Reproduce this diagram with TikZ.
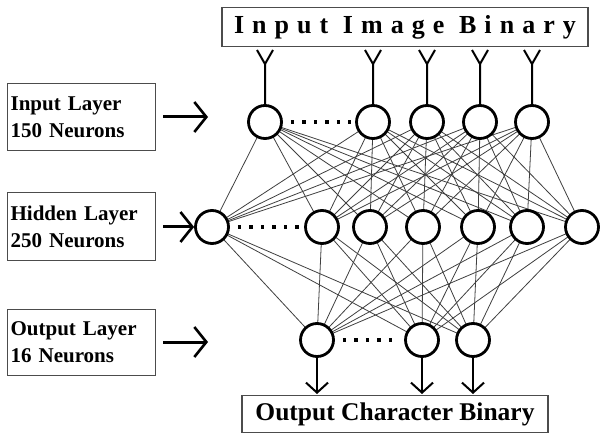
\documentclass[tikz,border=0pt]{standalone}
\usepackage{fontspec}
\setmainfont{Liberation Serif}
\usetikzlibrary{arrows.meta}
\tikzset{
  neuron/.style={circle, draw=black, line width=2.8pt, minimum size=33pt, inner sep=0pt, fill=white},
  lbox/.style={draw=black!70, line width=1.2pt, minimum width=148pt, inner sep=3pt, anchor=north west, align=left, text width=142pt, font=\bfseries\fontsize{21}{27}\selectfont},
  link/.style={draw=black!75, line width=0.8pt},
  dotline/.style={line width=3.5pt, dash pattern=on 3.5pt off 8pt},
  larrow/.style={line width=3pt, -{Straight Barb[length=12pt,width=30pt,line width=2.6pt]}},
  darrow/.style={line width=2pt, -{Straight Barb[length=10pt,width=22pt,line width=2pt]}},
  fork/.style={line width=2pt}
}
\begin{document}
\begin{tikzpicture}[x=1pt,y=-1pt]
\useasboundingbox[fill=white] (0,0) rectangle (601,435);
% title box
\node[draw=black!70, line width=1.2pt, minimum width=366pt, minimum height=39pt, inner sep=0pt] (title) at (405,27)
  {\bfseries\fontsize{26}{28}\selectfont\addfontfeature{LetterSpace=31}Input Image Binary};
% left label boxes
\node[lbox, minimum height=67pt] (lin) at (7,83) {Input Layer\\150 Neurons};
\node[lbox, minimum height=68pt] (lhid) at (7,192) {Hidden Layer\\250 Neurons};
\node[lbox, minimum height=66pt] (lout) at (7,309) {Output Layer\\16 Neurons};
% output box
\node[draw=black!70, line width=1.2pt, minimum width=306pt, minimum height=37pt, inner sep=0pt] (obox) at (395,414)
  {\bfseries\fontsize{25.5}{28}\selectfont Output Character Binary};
% connections
\foreach \a/\ax in {1/265,2/373,3/427,4/480,5/532}{
  \foreach \b/\bx in {1/212,2/322,3/370,4/423,5/478,6/527,7/582}{
    \draw[link] (\ax,122) -- (\bx,227);
  }
}
\foreach \b/\bx in {1/212,2/322,3/370,4/423,5/478,6/527,7/582}{
  \foreach \c/\cx in {1/317,2/422,3/473}{
    \draw[link] (\bx,227) -- (\cx,340);
  }
}
% input neurons
\foreach \a/\ax in {1/265,2/373,3/427,4/480,5/532}{
  \node[neuron] (i\a) at (\ax,122) {};
  \coordinate (f\a) at (\ax,64);
  \coordinate (fl\a) at (\ax-8,50);
  \coordinate (fr\a) at (\ax+8,50);
  \draw[fork] (i\a.north) -- (f\a) -- (fl\a);
  \draw[fork] (f\a) -- (fr\a);
}
% hidden neurons
\foreach \b/\bx in {1/212,2/322,3/370,4/423,5/478,6/527,7/582}{
  \node[neuron] (h\b) at (\bx,227) {};
}
% output neurons
\foreach \c/\cx in {1/317,2/422,3/473}{
  \node[neuron] (o\c) at (\cx,340) {};
  \coordinate (oe\c) at (\cx,394);
  \draw[darrow] (o\c.south) -- (oe\c);
}
% dotted
\draw[dotline] (i1.east) ++(8,0) -- ([xshift=-4pt]i2.west);
\draw[dotline] (h1.east) ++(8,0) -- ([xshift=-4pt]h2.west);
\draw[dotline] (o1.east) ++(8,0) -- ([xshift=-4pt]o2.west);
% left arrows
\coordinate (ai) at (208,117);
\coordinate (ao) at (208,342);
\draw[larrow] ([xshift=7pt]lin.east |- ai) -- (ai);
\draw[larrow] ([xshift=7pt]lhid.east |- h1) -- (h1.west);
\draw[larrow] ([xshift=7pt]lout.east |- ao) -- (ao);
\end{tikzpicture}
\end{document}
